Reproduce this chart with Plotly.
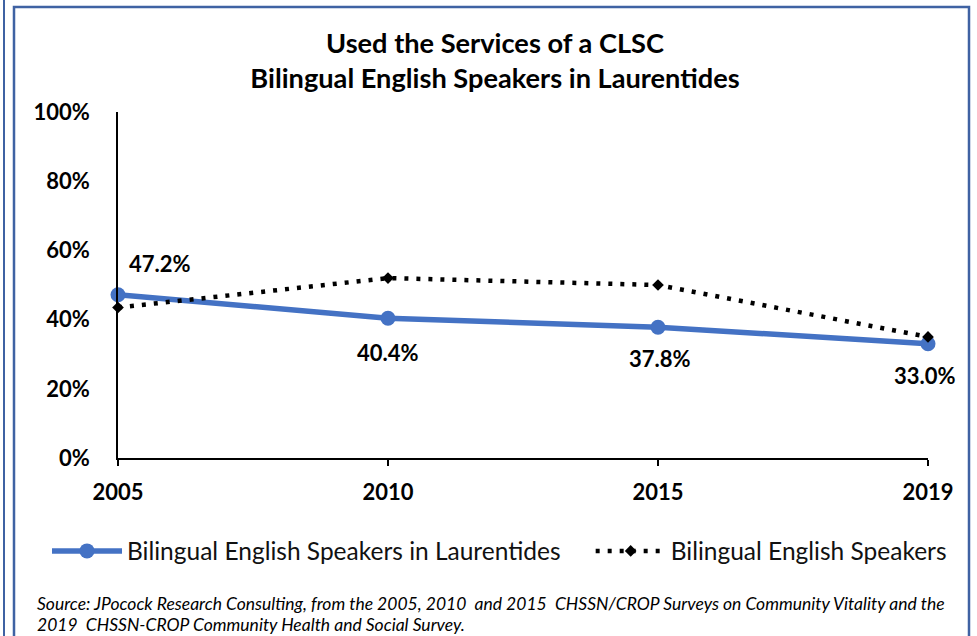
import plotly.graph_objects as go

# ---------------- data ----------------
years = ["2005", "2010", "2015", "2019"]
laurentides = [47.2, 40.4, 37.8, 33.0]          # Bilingual English Speakers in Laurentides
bilingual_all = [43.5, 52.0, 50.0, 35.0]        # Bilingual English Speakers
y_tick_vals = [0, 20, 40, 60, 80, 100]
y_tick_text = ["0%", "20%", "40%", "60%", "80%", "100%"]

title_text = "Used the Services of a CLSC<br>Bilingual English Speakers in Laurentides"
name_a = "Bilingual English Speakers in Laurentides"
name_b = "Bilingual English Speakers"
source_lines = [
    "Source: JPocock Research Consulting, from the 2005, 2010\u00a0 and 2015\u00a0 CHSSN/CROP Surveys on Community Vitality and the",
    "2019\u00a0 CHSSN-CROP Community Health and Social Survey.",
]

# ---------------- layout helpers ----------------
W, H = 977, 636
L, R, T, B = 118, 928, 112, 458   # plot area in pixels


def px_x(px):
    return (px - L) / (R - L)


def px_y(py):
    return (B - py) / (B - T)


FONT = "Lato, Calibri, Carlito, sans-serif"
BLUE = "#4472C4"
BORDER = "#3F62A3"
LEGEND_PAD = "\u00a0" * 4   # extra spacing between the two legend entries

fig = go.Figure()

fig.add_trace(go.Scatter(
    x=years, y=laurentides, name=name_a + LEGEND_PAD, mode="lines+markers",
    line=dict(color=BLUE, width=5.5),
    marker=dict(color=BLUE, size=15, symbol="circle"),
    cliponaxis=False,
))
fig.add_trace(go.Scatter(
    x=years, y=bilingual_all, name=name_b, mode="lines+markers",
    line=dict(color="black", width=4.5, dash="4px,8px"),
    marker=dict(color="black", size=9, symbol="diamond"),
    cliponaxis=False,
))

# data labels for the Laurentides series (category axis -> use index)
label_shifts = [(42, 31), (0, -34), (2, -31), (-3, -32)]
for i, (v, (dx, dy)) in enumerate(zip(laurentides, label_shifts)):
    fig.add_annotation(
        x=i, y=v, xref="x", yref="y", text=f"<b>{v:.1f}%</b>",
        showarrow=False, xshift=dx, yshift=dy,
        font=dict(family=FONT, size=22, color="black"),
    )

# source note
for i, line in enumerate(source_lines):
    fig.add_annotation(
        x=px_x(35), y=px_y(603 + 21 * i), xref="paper", yref="paper",
        xanchor="left", yanchor="middle", showarrow=False,
        text=f"<i>{line}</i>", align="left",
        font=dict(family=FONT, size=17.5, color="black"),
    )

# frame borders
fig.add_shape(type="rect", xref="paper", yref="paper",
              x0=px_x(14), x1=px_x(969), y0=px_y(7), y1=px_y(660),
              line=dict(color=BORDER, width=2.5), layer="above")
fig.add_shape(type="line", xref="paper", yref="paper",
              x0=px_x(4), x1=px_x(4), y0=px_y(0), y1=px_y(660),
              line=dict(color=BORDER, width=2), layer="above")

fig.update_layout(
    width=W, height=H,
    margin=dict(l=L, r=W - R, t=T, b=H - B, autoexpand=False),
    paper_bgcolor="white", plot_bgcolor="white",
    font=dict(family=FONT, color="black"),
    title=dict(
        text=f"<b>{title_text}</b>", x=495 / W, xref="container", xanchor="center",
        y=1 - 53 / H, yref="container", yanchor="top",
        font=dict(family=FONT, size=27.2, color="black"),
    ),
    showlegend=True,
    legend=dict(
        orientation="h", xref="paper", yref="paper",
        x=px_x(47), xanchor="left", y=px_y(551), yanchor="middle",
        itemwidth=70,
        font=dict(family=FONT, size=24.5, color="#111111"),
        bgcolor="rgba(0,0,0,0)", tracegroupgap=0,
    ),
    xaxis=dict(
        type="category", range=[0, 3], showgrid=False, zeroline=False,
        showline=True, linecolor="black", linewidth=1.5,
        ticks="outside", ticklen=6, tickcolor="black", tickwidth=1.5,
        tickfont=dict(family=FONT, size=22, color="black"),
        ticklabelstandoff=8, tickprefix="<b>", ticksuffix="</b>",
    ),
    yaxis=dict(
        range=[0, 100], showgrid=False, zeroline=False,
        showline=True, linecolor="black", linewidth=1.5,
        tickvals=y_tick_vals, ticktext=[f"<b>{t}</b>" for t in y_tick_text],
        ticks="", tickfont=dict(family=FONT, size=22, color="black"),
        ticklabelstandoff=22,
    ),
)

fig.write_html("out.html", config={"displayModeBar": False},
               post_script="document.body.style.margin='0';")
